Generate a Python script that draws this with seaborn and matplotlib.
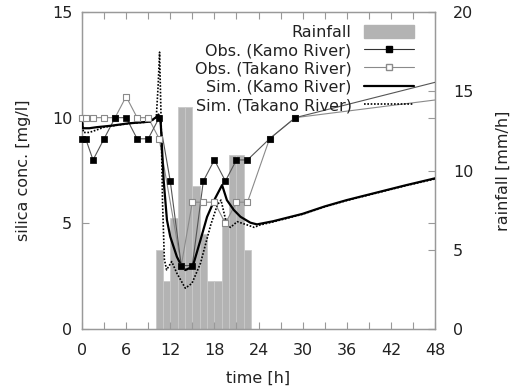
import numpy as np
import pandas as pd
import matplotlib
matplotlib.use("Agg")
import matplotlib.pyplot as plt
import seaborn as sns
from matplotlib.patches import Patch
from matplotlib.lines import Line2D
from matplotlib.ticker import MultipleLocator

# ---------------- data ----------------
rain_hours = [10, 11, 12, 13, 14, 15, 16, 17, 18, 19, 20, 21, 22]
rain_mmh = [5, 3, 7, 14, 14, 9, 6, 3, 3, 7, 11, 11, 5]

obs_kamo_t = [0, 0.5, 1.5, 3, 4.5, 6, 7.5, 9, 10.5, 12, 13.5, 15, 16.5, 18, 19.5, 21, 22.5, 25.5, 29, 54]
obs_kamo_v = [9, 9, 8, 9, 10, 10, 9, 9, 10, 7, 3, 3, 7, 8, 7, 8, 8, 9, 10, 12.2]

obs_takano_t = [0, 0.5, 1.5, 3, 4.5, 6, 7.5, 9, 10.5, 13.5, 15, 16.5, 18, 19.5, 21, 22.5, 25.5, 29, 54]
obs_takano_v = [10, 10, 10, 10, 10, 11, 10, 10, 9, 3, 6, 6, 6, 5, 6, 6, 9, 10, 11.1]

sim_kamo_t = [0.0, 0.1, 1.0, 2.0, 4.0, 6.3, 9.2, 10.0, 10.4, 10.7, 11.1, 11.55, 12.0, 12.9, 13.5,
              14.05, 15.05, 16.1, 17.0, 18.1, 19.05, 19.7, 20.65, 21.55, 22.9, 23.8,
              26.0, 30.0, 33.0, 36.0, 40.0, 44.0, 48.0]
sim_kamo_v = [10.0, 9.5, 9.5, 9.55, 9.62, 9.73, 9.81, 10.0, 10.15, 9.8, 7.05, 5.16, 4.37, 3.42, 3.0,
              2.79, 2.95, 4.2, 5.3, 6.18, 6.81, 6.1, 5.63, 5.31, 5.03, 4.95,
              5.1, 5.45, 5.8, 6.1, 6.45, 6.8, 7.13]

sim_takano_t = [0.0, 0.2, 1.0, 2.0, 3.0, 4.5, 6.3, 9.2, 10.1, 10.35, 10.55, 10.75, 10.95, 11.2, 11.5,
                12.2, 12.9, 14.05, 14.95, 16.1, 17.5, 18.4, 18.9, 19.7, 20.2, 21.1, 22.5,
                23.4, 24.2, 26.0, 30.0, 33.0, 36.0, 40.0, 44.0, 48.0]
sim_takano_v = [9.9, 9.3, 9.3, 9.42, 9.55, 9.63, 9.72, 9.8, 10.0, 11.5, 13.1, 10.0, 6.0, 3.3, 2.8,
                3.19, 2.64, 1.93, 2.16, 3.1, 4.92, 5.87, 6.1, 4.92, 4.81, 5.08, 4.92,
                4.81, 4.92, 5.07, 5.43, 5.78, 6.08, 6.43, 6.78, 7.1]

legend_labels = ["Rainfall", "Obs. (Kamo River)", "Obs. (Takano River)",
                 "Sim. (Kamo River)", "Sim. (Takano River)"]

# ---------------- style ----------------
sns.set_theme(style="white")
plt.rcParams['font.family'] = ['DejaVu Sans']
FS = 11.5
TXT = "#222222"
AXC = "#999999"
BAR = "#b3b3b3"

fig = plt.figure(figsize=(5.11, 3.91), dpi=100)
ax = fig.add_axes([82 / 511, 1 - 329 / 391, (435 - 82) / 511, (329 - 12) / 391])
ax2 = ax.twinx()

# rainfall bars (right axis): each bar covers [hour, hour+1]
rain_df = pd.DataFrame({"mid": np.array(rain_hours) + 0.5, "rain": rain_mmh})
sns.barplot(data=rain_df, x="mid", y="rain", ax=ax2, native_scale=True, width=1.0,
            color=BAR, saturation=1, edgecolor="#c9c9c9", linewidth=0.6, errorbar=None)
ax2.set_ylim(0, 20)
ax2.set_ylabel("rainfall [mm/h]", fontsize=FS, color=TXT, labelpad=16)

# put line axis above bars
ax.set_zorder(ax2.get_zorder() + 1)
ax.patch.set_visible(False)

kamo_df = pd.DataFrame({"t": obs_kamo_t, "v": obs_kamo_v})
tak_df = pd.DataFrame({"t": obs_takano_t, "v": obs_takano_v})
simk_df = pd.DataFrame({"t": sim_kamo_t, "v": sim_kamo_v})
simt_df = pd.DataFrame({"t": sim_takano_t, "v": sim_takano_v})

sns.lineplot(data=tak_df, x="t", y="v", ax=ax, color="#8a8a8a", linewidth=0.8,
             estimator=None, sort=False, zorder=3)
sns.lineplot(data=kamo_df, x="t", y="v", ax=ax, color="#555555", linewidth=0.8,
             estimator=None, sort=False, zorder=3)
sns.lineplot(data=simt_df, x="t", y="v", ax=ax, color="black", linewidth=1.2,
             linestyle=(0, (1, 1)), estimator=None, sort=False, zorder=4)
sns.lineplot(data=simk_df, x="t", y="v", ax=ax, color="black", linewidth=1.6,
             estimator=None, sort=False, zorder=4)

tak_in = tak_df[tak_df.t <= 48]
kamo_in = kamo_df[kamo_df.t <= 48]
sns.scatterplot(data=tak_in, x="t", y="v", ax=ax, marker="s", s=22,
                facecolor="white", edgecolor="#8a8a8a", linewidth=0.8, zorder=5, clip_on=False)
sns.scatterplot(data=kamo_in, x="t", y="v", ax=ax, marker="s", s=22,
                color="black", edgecolor="black", linewidth=0.5, zorder=6, clip_on=False)

ax.set_xlim(0, 48)
ax2.set_xlim(0, 48)
ax.set_ylim(0, 15)
ax.xaxis.set_major_locator(MultipleLocator(6))
ax.xaxis.set_minor_locator(MultipleLocator(3))
ax.yaxis.set_major_locator(MultipleLocator(5))
ax2.yaxis.set_major_locator(MultipleLocator(5))

ax.set_xlabel("time [h]", fontsize=FS, color=TXT, labelpad=9)
ax.set_ylabel("silica conc. [mg/l]", fontsize=FS, color=TXT, labelpad=15)

for a in (ax, ax2):
    for s in a.spines.values():
        s.set_color(AXC)
        s.set_linewidth(0.9)
ax.tick_params(axis="x", which="both", direction="in", length=5, width=0.8, color=AXC,
               top=True, bottom=True, labelsize=FS, labelcolor=TXT, pad=10)
ax.tick_params(axis="y", which="both", direction="in", length=5, width=0.8, color=AXC,
               left=True, right=True, labelsize=FS, labelcolor=TXT, pad=7)
ax2.tick_params(axis="y", which="both", direction="in", length=5, width=0.8, color=AXC,
                right=True, left=False, labelsize=FS, labelcolor=TXT, pad=13)
ax2.tick_params(axis="x", which="both", bottom=False, top=False, labelbottom=False)

handles = [
    Patch(facecolor=BAR, edgecolor=BAR),
    Line2D([], [], color="#333333", linewidth=0.8, marker="s", markersize=4,
           markerfacecolor="black", markeredgecolor="black"),
    Line2D([], [], color="#8a8a8a", linewidth=0.8, marker="s", markersize=4,
           markerfacecolor="white", markeredgecolor="#8a8a8a"),
    Line2D([], [], color="black", linewidth=1.6),
    Line2D([], [], color="black", linewidth=1.2, linestyle=(0, (1, 1))),
]
leg = ax.legend(handles, legend_labels, loc="upper right", bbox_to_anchor=(0.94, 0.96),
                frameon=False, markerfirst=False, fontsize=FS, handlelength=3.1,
                handletextpad=0.8, labelspacing=0.2, borderpad=0, borderaxespad=0,
                handleheight=0.9)
for t in leg.get_texts():
    t.set_color(TXT)
    t.set_ha("right")
leg._legend_box.align = "right"

fig.savefig("out.png", dpi=100)
